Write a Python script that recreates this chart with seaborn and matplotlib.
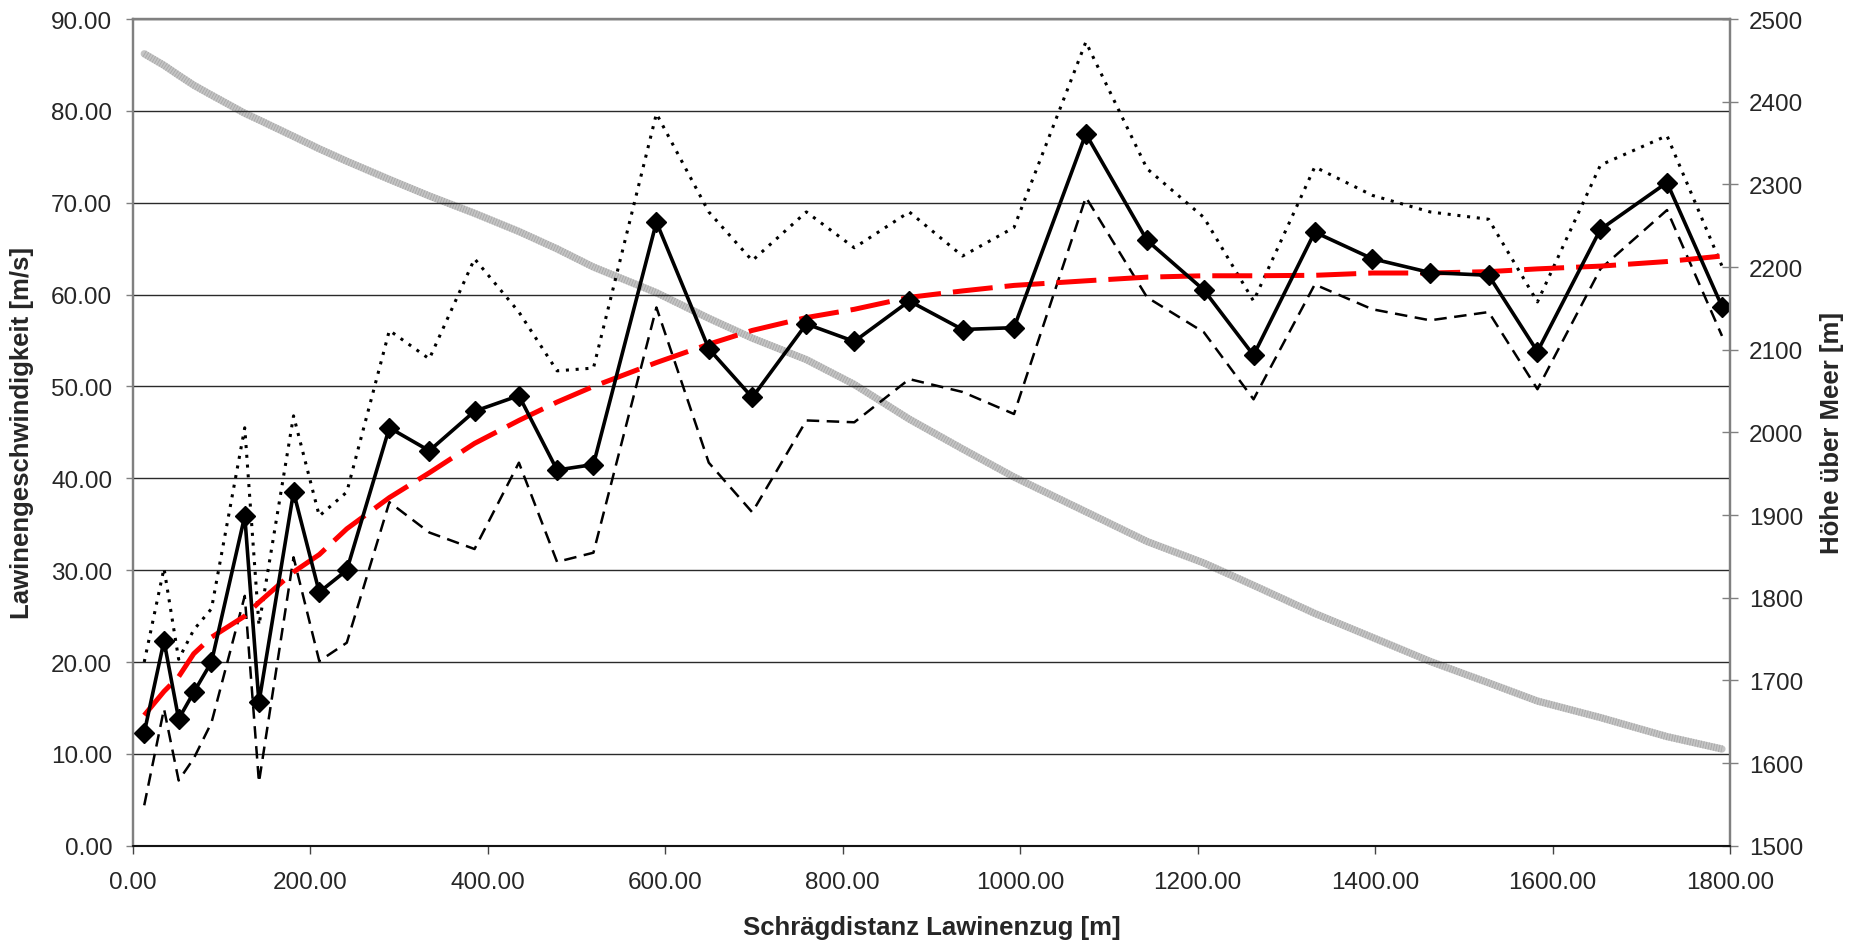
import numpy as np
import pandas as pd
import matplotlib
matplotlib.use("Agg")
import matplotlib.pyplot as plt
import seaborn as sns
from matplotlib.ticker import FormatStrFormatter, MultipleLocator

sns.set_style("white")
plt.rcParams["font.family"] = ["Liberation Sans", "DejaVu Sans"]

# Schrägdistanz der Messpunkte [m]
distanz = [12.7, 35, 51.5, 68.5, 88.5, 126, 142, 181, 210, 241, 289, 334, 385, 435,
           478, 519, 590, 649, 698, 759, 813, 875, 935, 993, 1074, 1143, 1207, 1263,
           1332, 1397, 1462, 1528, 1583, 1654, 1729, 1791]

# Lawinengeschwindigkeit [m/s]
v_mittel = [12.3, 22.3, 13.8, 16.7, 20.0, 35.9, 15.6, 38.5, 27.6, 30.0, 45.5, 43.0, 47.3, 49.0,
            40.9, 41.5, 67.9, 54.1, 48.8, 56.8, 54.9, 59.3, 56.2, 56.4, 77.5, 65.9, 60.5, 53.4,
            66.8, 63.9, 62.4, 62.1, 53.8, 67.1, 72.2, 58.7]
v_oben = [20.0, 30.2, 20.3, 23.5, 25.8, 45.5, 24.0, 46.8, 35.9, 38.5, 56.1, 53.0, 63.9, 58.1,
          51.7, 52.0, 79.7, 69.0, 63.7, 69.0, 65.1, 69.0, 64.2, 67.3, 87.5, 73.7, 68.4, 59.3,
          73.9, 70.8, 69.0, 68.2, 59.2, 74.1, 77.3, 63.1]
v_unten = [4.4, 14.9, 7.1, 9.5, 13.4, 27.2, 6.9, 31.4, 20.1, 22.1, 37.4, 34.1, 32.3, 41.7,
           30.9, 31.9, 58.6, 41.7, 36.3, 46.3, 46.1, 50.8, 49.4, 47.0, 70.6, 59.7, 55.9, 48.6,
           61.1, 58.4, 57.2, 58.1, 49.7, 62.8, 69.2, 55.5]
v_trend = [14.2, 16.8, 18.4, 20.9, 22.7, 25.0, 26.5, 29.8, 31.7, 34.5, 37.9, 40.6, 43.8, 46.3,
           48.3, 50.0, 52.6, 54.6, 56.1, 57.5, 58.4, 59.7, 60.4, 61.0, 61.5, 61.9, 62.05, 62.05,
           62.1, 62.35, 62.35, 62.5, 62.8, 63.1, 63.6, 64.2]

# Höhe über Meer [m]
hoehe = [2458, 2444, 2432, 2420, 2408, 2386, 2378, 2358, 2343, 2328, 2306, 2286, 2265, 2243,
         2222, 2200, 2169, 2138, 2114, 2088, 2058, 2016, 1980, 1946, 1904, 1868, 1842, 1815,
         1781, 1752, 1723, 1697, 1675, 1655, 1632, 1617]

df = pd.DataFrame({"distanz": distanz, "mittel": v_mittel, "oben": v_oben,
                   "unten": v_unten, "trend": v_trend, "hoehe": hoehe})

fig = plt.figure(figsize=(18.57, 9.45), dpi=100)
ax = fig.add_axes([0.0716, 0.104, 0.86, 0.8748])
ax2 = ax.twinx()
ax.set_zorder(ax2.get_zorder() + 1)
ax.patch.set_visible(False)

# Höhenprofil (rechte Achse), leicht gestreift wie im Original
sns.lineplot(data=df, x="distanz", y="hoehe", ax=ax2, color="#c4c4c4", lw=5.2,
             errorbar=None, sort=False)
sns.lineplot(data=df, x="distanz", y="hoehe", ax=ax2, color="#a8a8a8", lw=5.2,
             linestyle=(0, (0.12, 0.25)), errorbar=None, sort=False)

# Geschwindigkeiten (linke Achse)
sns.lineplot(data=df, x="distanz", y="oben", ax=ax, color="black", lw=2.2,
             linestyle=(0, (1, 2.2)), errorbar=None, sort=False)
sns.lineplot(data=df, x="distanz", y="unten", ax=ax, color="black", lw=1.8,
             linestyle=(0, (5, 3)), errorbar=None, sort=False)
sns.lineplot(data=df, x="distanz", y="trend", ax=ax, color="#ff0000", lw=3.6,
             linestyle=(0, (8, 2.4)), errorbar=None, sort=False)
sns.lineplot(data=df, x="distanz", y="mittel", ax=ax, color="black", lw=2.6,
             marker="D", markersize=10, markeredgecolor="black", markeredgewidth=1,
             errorbar=None, sort=False)

ax.set_xlim(0, 1800)
ax.set_ylim(0, 90)
ax2.set_ylim(1500, 2500)
ax.xaxis.set_major_locator(MultipleLocator(200))
ax.yaxis.set_major_locator(MultipleLocator(10))
ax2.yaxis.set_major_locator(MultipleLocator(100))
ax.xaxis.set_major_formatter(FormatStrFormatter("%.2f"))
ax.yaxis.set_major_formatter(FormatStrFormatter("%.2f"))

ax.grid(axis="y", color="#2a2a2a", lw=1.0)
ax.set_axisbelow(True)

for name, sp in ax.spines.items():
    sp.set_color("#808080")
    sp.set_linewidth(1.6)
ax.spines["bottom"].set_color("black")
ax.spines["bottom"].set_linewidth(1.2)
for sp in ax2.spines.values():
    sp.set_color("#808080")
    sp.set_linewidth(1.6)

ax.tick_params(axis="x", direction="out", length=6, width=1, color="#444444",
               pad=12, labelsize=17.5, bottom=True)
ax.tick_params(axis="y", direction="out", length=5, width=1, color="#808080",
               pad=10, labelsize=17.5, left=True)
ax2.tick_params(axis="y", direction="inout", length=11, width=1, color="#808080",
                pad=8, labelsize=17.5, right=True)

ax.set_xlabel("Schrägdistanz Lawinenzug [m]", fontsize=18.5, fontweight="bold", labelpad=16)
ax.set_ylabel("Lawinengeschwindigkeit [m/s]", fontsize=18.5, fontweight="bold", labelpad=12)
ax2.set_ylabel("Höhe über Meer [m]", fontsize=18.5, fontweight="bold", labelpad=12)

fig.savefig("out.png", dpi=100)
